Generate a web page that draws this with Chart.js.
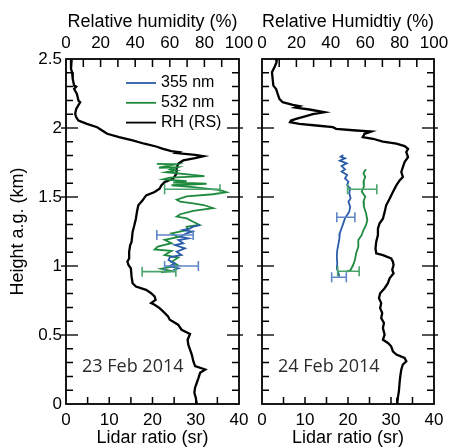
<!DOCTYPE html>
<html lang="en">
<head>
<meta charset="UTF-8">
<title>Lidar ratio and relative humidity</title>
<script src="https://cdn.jsdelivr.net/npm/chart.js"></script>
<style>
  html, body { margin: 0; padding: 0; background: #fff; overflow: hidden; }
  #wrap { position: relative; width: 451px; height: 447px; overflow: hidden; }
  canvas { position: absolute; top: 0; }
</style>
<script>
// pairs are [height a.g. (km), value]
var rh23 = [[2.5,3.3],[2.428,2.9],[2.404,3.5],[2.355,3.9],[2.307,4.7],[2.300,5.9],[2.283,4.7],[2.247,6.3],
  [2.199,7.2],[2.187,8.2],[2.139,5.9],[2.102,5.3],[2.078,5.9],[2.054,7.2],[2.030,12.1],[2.006,18.0],
  [1.982,20.9],[1.958,23.8],[1.934,30.7],[1.910,38.5],[1.886,45.3],[1.866,52.1],[1.849,56.1],[1.833,60.9],
  [1.825,65.2],[1.818,63.9],[1.806,74.6],[1.796,79.5],[1.782,74.6],[1.765,67.8],[1.741,64.8],[1.705,63.9],
  [1.669,63.9],[1.633,61.9],[1.608,57.0],[1.584,55.1],[1.560,54.1],[1.536,51.2],[1.512,46.3],[1.476,44.3],
  [1.440,41.8],[1.392,41.0],[1.343,40.4],[1.295,39.5],[1.247,38.5],[1.175,37.9],[1.151,37.1],[1.103,36.5],
  [1.055,36.5],[1.031,35.5],[1.007,36.1],[0.983,37.5],[0.923,37.9],[0.875,38.5],[0.851,40.4],[0.827,46.3],
  [0.803,49.2],[0.779,51.2],[0.755,51.8],[0.731,49.2],[0.719,51.2],[0.695,54.1],[0.671,56.1],[0.635,59.0],
  [0.611,60.0],[0.575,64.8],[0.538,66.8],[0.507,71.7],[0.466,70.3],[0.430,70.7],[0.394,71.7],[0.358,72.7],
  [0.310,73.6],[0.274,74.6],[0.250,80.5],[0.226,77.5],[0.190,76.6],[0.154,75.6],[0.118,74.6],[0.082,74.2],
  [0.046,75.0],[0,75.6]];
var lr532_23 = [[1.740,21.0],[1.737,25.5],[1.725,23.5],[1.712,21.5],[1.715,25.8],[1.700,24.2],[1.692,25.5],
  [1.680,23.2],[1.652,32.0],[1.640,24.0],[1.628,22.5],[1.615,27.9],[1.605,24.8],[1.596,32.5],[1.585,24.4],
  [1.572,29.4],[1.550,35.6],[1.535,37.1],[1.520,34.0],[1.505,27.9],[1.480,25.6],[1.466,26.4],[1.454,29.4],
  [1.442,31.8],[1.420,34.0],[1.400,29.4],[1.375,26.4],[1.358,25.6],[1.345,27.9],[1.321,29.4],[1.297,30.9],
  [1.285,27.9],[1.261,28.3],[1.236,24.4],[1.210,25.9],[1.190,22.8],[1.165,24.4],[1.140,21.2],[1.120,20.5],
  [1.110,24.4],[1.080,22.8],[1.060,25.9],[1.030,24.4],[1.005,25.9],[0.980,22.0],[0.964,24.4],[0.954,22.0]];
var lr355_23 = [[1.297,31.0],[1.285,29.4],[1.273,28.7],[1.261,27.1],[1.249,29.1],[1.237,27.9],[1.213,26.4],
  [1.200,28.3],[1.188,26.0],[1.164,27.1],[1.152,25.2],[1.128,27.5],[1.104,25.6],[1.080,26.7],[1.063,24.0],
  [1.043,23.7],[1.019,25.2],[1.000,24.0],[0.983,26.0],[0.971,24.8]];

var rh24 = [[2.5,8.2],[2.476,8.5],[2.440,7.2],[2.404,5.8],[2.355,6.2],[2.307,6.6],[2.283,8.2],[2.247,9.1],
  [2.211,10.1],[2.187,12.0],[2.167,17.9],[2.158,21.7],[2.148,19.4],[2.134,27.6],[2.114,36.3],[2.100,29.5],
  [2.086,25.6],[2.066,19.8],[2.054,16.9],[2.042,16.3],[2.030,21.7],[2.018,31.5],[2.006,41.2],[1.994,43.1],
  [1.982,54.8],[1.975,63.5],[1.958,59.6],[1.934,58.6],[1.922,64.5],[1.902,70.3],[1.886,78.1],[1.869,82.9],
  [1.849,84.9],[1.825,83.9],[1.789,84.9],[1.753,82.9],[1.717,81.9],[1.681,81.0],[1.645,81.9],[1.620,80.0],
  [1.584,78.1],[1.536,76.1],[1.488,74.2],[1.440,72.2],[1.392,71.3],[1.343,70.3],[1.307,68.3],[1.271,67.4],
  [1.224,67.4],[1.175,66.4],[1.127,66.0],[1.091,66.4],[1.079,70.3],[1.055,75.1],[1.031,76.1],[1.007,76.5],
  [0.971,75.7],[0.947,76.5],[0.911,74.2],[0.875,73.2],[0.839,71.3],[0.803,68.7],[0.767,68.0],[0.731,69.3],
  [0.695,68.7],[0.659,69.9],[0.623,69.3],[0.587,70.9],[0.550,70.3],[0.502,71.3],[0.466,70.3],[0.442,73.2],
  [0.418,75.1],[0.382,76.1],[0.358,78.1],[0.334,82.9],[0.310,83.9],[0.286,81.9],[0.250,81.0],[0.202,80.4],
  [0.154,80.0],[0.094,79.6],[0.046,79.0],[0,78.6]];
var lr355_24 = [[1.804,18.9],[1.792,18.3],[1.780,19.3],[1.763,18.1],[1.744,19.7],[1.725,18.5],[1.700,19.3],
  [1.684,18.5],[1.659,19.8],[1.635,19.3],[1.611,20.1],[1.587,19.8],[1.563,20.5],[1.527,20.3],[1.490,20.6],
  [1.466,20.1],[1.430,20.5],[1.394,20.3],[1.370,19.8],[1.346,19.3],[1.309,18.9],[1.273,18.5],[1.237,18.1],
  [1.200,18.0],[1.164,17.8],[1.116,17.5],[1.068,17.4],[1.019,17.5],[0.983,17.4],[0.947,17.8],[0.923,18.0]];
var lr532_24 = [[1.700,24.2],[1.690,23.9],[1.671,23.6],[1.647,24.0],[1.611,23.6],[1.575,23.7],[1.539,23.2],
  [1.502,24.0],[1.466,23.6],[1.430,23.7],[1.382,24.2],[1.333,24.5],[1.297,24.2],[1.261,23.6],[1.225,23.2],
  [1.188,22.4],[1.140,22.4],[1.092,21.9],[1.043,21.6],[1.007,21.2],[0.971,20.6],[0.959,19.7]];

// error bars: height, centre, half width (sr)
var err355_23Height = [1.225, 1.000], err355_23Center = [25.2, 26.7], err355_23Half = [4.2, 3.9];
var err532_23Height = [1.556, 0.959], err532_23Center = [29.2, 21.5], err532_23Half = [6.4, 3.9];
var err355_24Height = [1.353, 0.918], err355_24Center = [19.5, 17.9], err355_24Half = [2.1, 1.7];
var err532_24Height = [1.556, 0.962], err532_24Center = [23.3, 20.1], err532_24Half = [3.4, 2.5];

var lidarTicks = [0, 10, 20, 30, 40];
var rhTicks = [0, 20, 40, 60, 80, 100];
var heightTicks = [0, 0.5, 1, 1.5, 2, 2.5];

var BLUE = '#2a5caa', GREEN = '#1e8a3e', BLUE_ERR = '#5f86c6', GREEN_ERR = '#4aa46c';
var FONT = "'Liberation Sans', Arial, sans-serif";

function toPoints(pairs) {
    return pairs.map(function(p) { return { x: p[1], y: p[0] }; });
}

var panelDecor = {
    id: 'panelDecor',
    afterDatasetsDraw: function(chart, args, opts) {
        var ctx = chart.ctx, sx = chart.scales.x, sy = chart.scales.y;
        ctx.save();
        ctx.lineWidth = 1.6;
        opts.errors.forEach(function(e) {
            ctx.strokeStyle = e.color;
            e.height.forEach(function(h, i) {
                var y = sy.getPixelForValue(h);
                var x1 = sx.getPixelForValue(e.center[i] - e.half[i]);
                var x2 = sx.getPixelForValue(e.center[i] + e.half[i]);
                ctx.beginPath();
                ctx.moveTo(x1, y); ctx.lineTo(x2, y);
                ctx.moveTo(x1, y - 5); ctx.lineTo(x1, y + 5);
                ctx.moveTo(x2, y - 5); ctx.lineTo(x2, y + 5);
                ctx.stroke();
            });
        });
        ctx.restore();
    },
    afterDraw: function(chart, args, opts) {
        var ctx = chart.ctx, a = chart.chartArea, s = chart.scales;
        var v, p;
        ctx.save();
        ctx.lineWidth = 1.5;
        ctx.strokeStyle = '#000';
        ctx.beginPath();
        for (v = 5; v < 40; v += 5) {
            p = s.x.getPixelForValue(v);
            ctx.moveTo(p, a.bottom); ctx.lineTo(p, a.bottom - 7);
        }
        for (v = 10; v < 100; v += 10) {
            p = s.rh.getPixelForValue(v);
            ctx.moveTo(p, a.top); ctx.lineTo(p, a.top + 8);
        }
        for (v = 1; v < 25; v++) {
            if (v % 5 === 0) continue;
            p = s.y.getPixelForValue(v / 10);
            ctx.moveTo(a.left, p); ctx.lineTo(a.left + 7, p);
            ctx.moveTo(a.right, p); ctx.lineTo(a.right - 7, p);
        }
        ctx.stroke();
        ctx.strokeStyle = '#555';
        ctx.lineWidth = 1.8;
        ctx.beginPath();
        for (v = 5; v < 25; v += 5) {
            p = s.y.getPixelForValue(v / 10);
            ctx.moveTo(a.left - 5, p); ctx.lineTo(a.left + 12, p);
            ctx.moveTo(a.right + 4, p); ctx.lineTo(a.right - 12, p);
        }
        ctx.stroke();
        ctx.strokeStyle = '#000';
        ctx.lineWidth = 1.8;
        ctx.strokeRect(a.left, a.top, a.right - a.left, a.bottom - a.top);

        // date label
        ctx.fillStyle = '#2b2b2b';
        ctx.font = "18px 'Open Sans', sans-serif";
        ctx.textBaseline = 'middle';
        ctx.fillText(opts.date, a.left + 16, a.bottom - 37);

        if (opts.legend) {
            ctx.font = '16px ' + FONT;
            ctx.fillStyle = '#000';
            chart.data.datasets.forEach(function(ds, i) {
                var y = a.top + 24 + i * 19.8;
                ctx.strokeStyle = ds.borderColor;
                ctx.lineWidth = 1.8;
                ctx.beginPath();
                ctx.moveTo(a.left + 60, y); ctx.lineTo(a.left + 90, y);
                ctx.stroke();
                ctx.fillText(ds.label, a.left + 95, y);
            });
        }
        ctx.restore();
    }
};

function makePanel(canvasId, cfg) {
    var tickFont = { family: FONT, size: 17 };
    var titleFont = { family: FONT, size: 18, lineHeight: 1 };
    var ctx = document.getElementById(canvasId).getContext('2d');
    return new Chart(ctx, {
        type: 'scatter',
        data: {
            datasets: [
                { label: '355 nm', data: toPoints(cfg.lr355), borderColor: BLUE, borderWidth: 1.8,
                  showLine: true, pointRadius: 0, xAxisID: 'x', yAxisID: 'y', order: 1 },
                { label: '532 nm', data: toPoints(cfg.lr532), borderColor: GREEN, borderWidth: 1.8,
                  showLine: true, pointRadius: 0, xAxisID: 'x', yAxisID: 'y', order: 2 },
                { label: 'RH (RS)', data: toPoints(cfg.rh), borderColor: '#000', borderWidth: 2.3,
                  showLine: true, pointRadius: 0, xAxisID: 'rh', yAxisID: 'y', order: 3 }
            ]
        },
        options: {
            responsive: false,
            animation: false,
            layout: { padding: { left: 0, right: cfg.padRight, top: 0, bottom: 0 } },
            plugins: {
                legend: { display: false },
                tooltip: { enabled: false },
                panelDecor: { date: cfg.date, legend: cfg.legend, errors: cfg.errors }
            },
            scales: {
                x: {
                    type: 'linear', position: 'bottom', min: 0, max: 40,
                    afterBuildTicks: function(s) { s.ticks = lidarTicks.map(function(v) { return { value: v }; }); },
                    ticks: { font: tickFont, color: '#000', padding: 6, maxRotation: 0 },
                    grid: { display: false, drawTicks: false },
                    border: { display: false },
                    title: { display: true, text: 'Lidar ratio (sr)', font: titleFont, color: '#000',
                             padding: { top: 0, bottom: 0 } },
                    afterFit: function(s) { s.height = 43; }
                },
                rh: {
                    type: 'linear', position: 'top', min: 0, max: 100,
                    afterBuildTicks: function(s) { s.ticks = rhTicks.map(function(v) { return { value: v }; }); },
                    ticks: { font: tickFont, color: '#000', padding: 5, maxRotation: 0 },
                    grid: { display: false, drawTicks: false },
                    border: { display: false },
                    title: { display: true, text: cfg.rhTitle, font: titleFont, color: '#000',
                             padding: { top: 13.5, bottom: 13.5 } },
                    afterFit: function(s) { s.height = 59; }
                },
                y: {
                    type: 'linear', position: 'left', min: 0, max: 2.5,
                    afterBuildTicks: function(s) { s.ticks = heightTicks.map(function(v) { return { value: v }; }); },
                    ticks: { display: cfg.yLabels, font: tickFont, color: '#000', padding: 4,
                             callback: function(v) { return String(v); } },
                    grid: { display: false, drawTicks: false },
                    border: { display: false },
                    title: { display: cfg.yLabels, text: 'Height a.g. (km)', font: titleFont, color: '#000',
                             padding: { top: 9, bottom: 9 } },
                    afterFit: function(s) { s.width = cfg.yWidth; }
                }
            }
        },
        plugins: [panelDecor]
    });
}

window.onload = function() {
    makePanel('left', {
        rh: rh23, lr355: lr355_23, lr532: lr532_23,
        rhTitle: 'Relative humidity (%)', date: '23 Feb 2014', legend: true,
        yLabels: true, yWidth: 66, padRight: 41,
        errors: [
            { color: BLUE_ERR, height: err355_23Height, center: err355_23Center, half: err355_23Half },
            { color: GREEN_ERR, height: err532_23Height, center: err532_23Center, half: err532_23Half }
        ]
    });
    makePanel('right', {
        rh: rh24, lr355: lr355_24, lr532: lr532_24,
        rhTitle: 'Relative Humidtiy (%)', date: '24 Feb 2014', legend: false,
        yLabels: false, yWidth: 22, padRight: 36,
        errors: [
            { color: BLUE_ERR, height: err355_24Height, center: err355_24Center, half: err355_24Half },
            { color: GREEN_ERR, height: err532_24Height, center: err532_24Center, half: err532_24Half }
        ]
    });
};
</script>
</head>
<body>
<div id="wrap">
  <canvas id="left" width="280" height="447" style="left:0"></canvas>
  <canvas id="right" width="230" height="447" style="left:240px"></canvas>
</div>
</body>
</html>
